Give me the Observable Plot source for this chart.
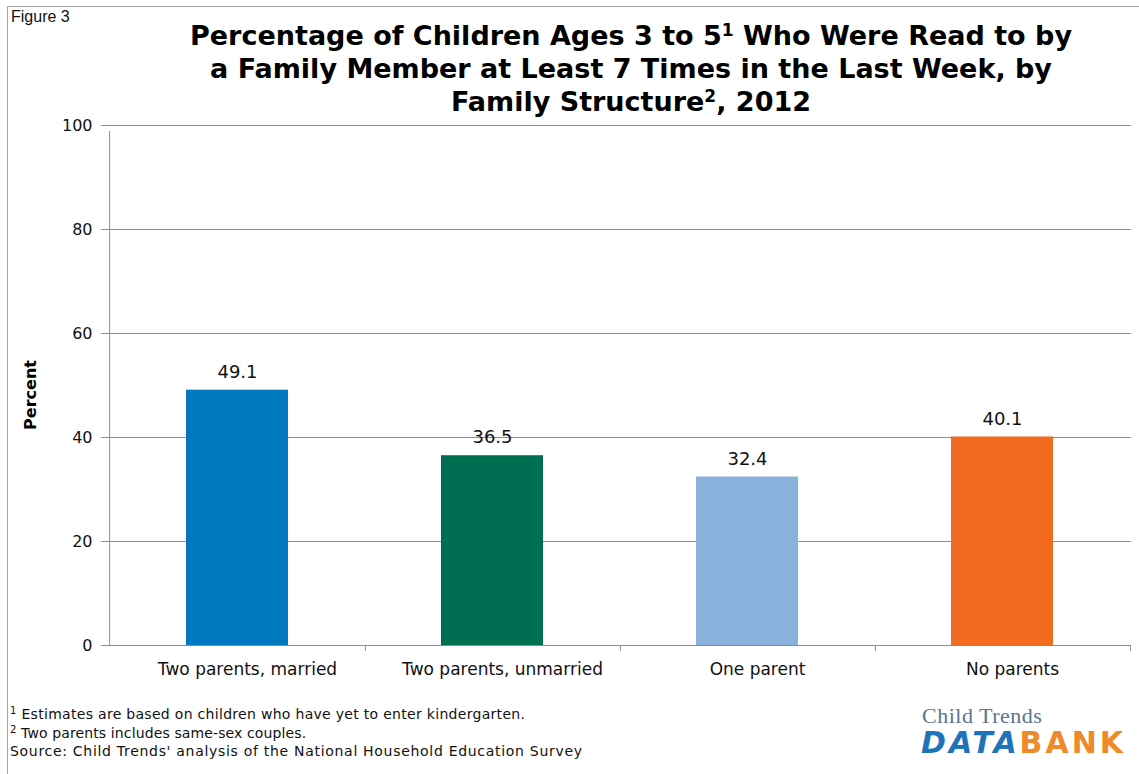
<!DOCTYPE html>
<html>
<head>
<meta charset="utf-8">
<script src="https://cdn.jsdelivr.net/npm/d3@7"></script>
<script src="https://cdn.jsdelivr.net/npm/@observablehq/plot@0.6"></script>
<style>
  html, body { margin: 0; padding: 0; background: #fff; }
  #fig { position: relative; width: 1139px; height: 774px; overflow: hidden; font-family: "DejaVu Sans", Verdana, sans-serif; color: #111; }
  #frame { position: absolute; left: 7px; top: 6px; width: 1200px; height: 900px; border-left: 1px solid #a6a6a6; border-top: 1px solid #a6a6a6; }
  #figlabel { position: absolute; left: 11px; top: 8px; font-family: "Liberation Sans", Arial, sans-serif; font-size: 16px; color: #111; }
  #title { position: absolute; left: 131px; width: 1000px; top: 19px; text-align: center; font-weight: bold; font-size: 27px; line-height: 33px; color: #000; }
  #title sup { font-size: 17px; line-height: 0; vertical-align: 9px; }
  #ylabel { position: absolute; left: 30px; top: 395px; transform: translate(-50%, -50%) rotate(-90deg); font-weight: bold; font-size: 16px; white-space: nowrap; color: #000; }
  #chart { position: absolute; left: 0; top: 115px; }
  #notes { position: absolute; left: 10px; top: 705px; font-size: 14px; line-height: 18.5px; color: #111; white-space: nowrap; }
  #notes sup { font-size: 10px; line-height: 0; vertical-align: 5px; }
  #notes .n1 { letter-spacing: 0.3px; }
  #notes .n2 { letter-spacing: 0.12px; }
  #notes .src { letter-spacing: 0.7px; }
  #logo { position: absolute; left: 918px; top: 703px; width: 214px; height: 62px; }
  #logo .ct { position: absolute; left: 4px; top: 0px; font-family: "Liberation Serif", "DejaVu Serif", serif; font-size: 22px; color: #5b7490; letter-spacing: 0.5px; white-space: nowrap; }
  #logo .db { position: absolute; left: 3px; top: 22px; font-weight: bold; font-size: 30px; letter-spacing: 3px; white-space: nowrap; }
  #logo .data { color: #1f73b8; font-style: italic; }
  #logo .bank { color: #ef8a2a; }
</style>
</head>
<body>
<div id="fig">
  <div id="frame"></div>
  <div id="figlabel">Figure 3</div>
  <div id="title">Percentage of Children Ages 3 to 5<sup>1</sup> Who Were Read to by<br>a Family Member at Least 7 Times in the Last Week, by<br>Family Structure<sup>2</sup>, 2012</div>
  <div id="ylabel">Percent</div>
  <div id="chart"></div>
  <div id="notes">
    <div class="n1"><sup>1</sup> Estimates are based on children who have yet to enter kindergarten.</div>
    <div class="n2"><sup>2</sup> Two parents includes same-sex couples.</div>
    <div class="src">Source: Child Trends' analysis of the National Household Education Survey</div>
  </div>
  <div id="logo">
    <div class="ct">Child Trends</div>
    <div class="db"><span class="data">DATA</span><span class="bank">BANK</span></div>
  </div>
</div>
<script>
// Family structure categories and share read to 7+ times in the last week (percent)
const categories = ["Two parents, married", "Two parents, unmarried", "One parent", "No parents"];
const percents = [49.1, 36.5, 32.4, 40.1];
const barColors = ["#0079c1", "#006f51", "#8ab0dc", "#f26b21"];
const yTicks = [0, 20, 40, 60, 80, 100];

const rows = categories.map((category, i) => ({category, percent: percents[i]}));

const W = 1139, ML = 108, MR = 8;
const step = (W - ML - MR) / categories.length;
const axisGray = "#8c8c8c";

const chart = Plot.plot({
  width: W,
  height: 575,
  marginLeft: ML,
  marginRight: MR,
  marginTop: 10,
  marginBottom: 45,
  style: {fontFamily: "DejaVu Sans, Verdana, sans-serif", fontSize: "16px", color: "#111", background: "transparent"},
  x: {domain: categories, paddingInner: 0.6, paddingOuter: 0.3, label: null},
  y: {domain: [0, 100], label: null},
  color: {domain: categories, range: barColors},
  marks: [
    Plot.gridY(yTicks.filter((t) => t > 0), {stroke: axisGray, strokeOpacity: 1}),
    Plot.barY(rows, {x: "category", y: "percent", fill: "category"}),
    Plot.ruleY([0], {stroke: axisGray}),
    // vertical axis line along the left edge of the plot
    Plot.ruleX([categories[0]], {y1: 0, y2: 100, insetBottom: -6, dx: -step / 2, stroke: axisGray}),
    // category boundary ticks below the baseline
    Plot.ruleX(categories, {y1: 0, y2: 0, insetBottom: -6, dx: step / 2, stroke: axisGray}),
    Plot.axisY({ticks: yTicks, tickSize: 7, tickPadding: 9, stroke: axisGray, fill: "#111", fontSize: 16}),
    Plot.axisX({tickSize: 0, tickPadding: 17, dx: 10, fill: "#111", fontSize: 17}),
    Plot.text(rows, {x: "category", y: "percent", text: (d) => d.percent.toFixed(1), dy: -18, fontSize: 18, fill: "#111"})
  ]
});

document.getElementById("chart").appendChild(chart);
</script>
</body>
</html>
